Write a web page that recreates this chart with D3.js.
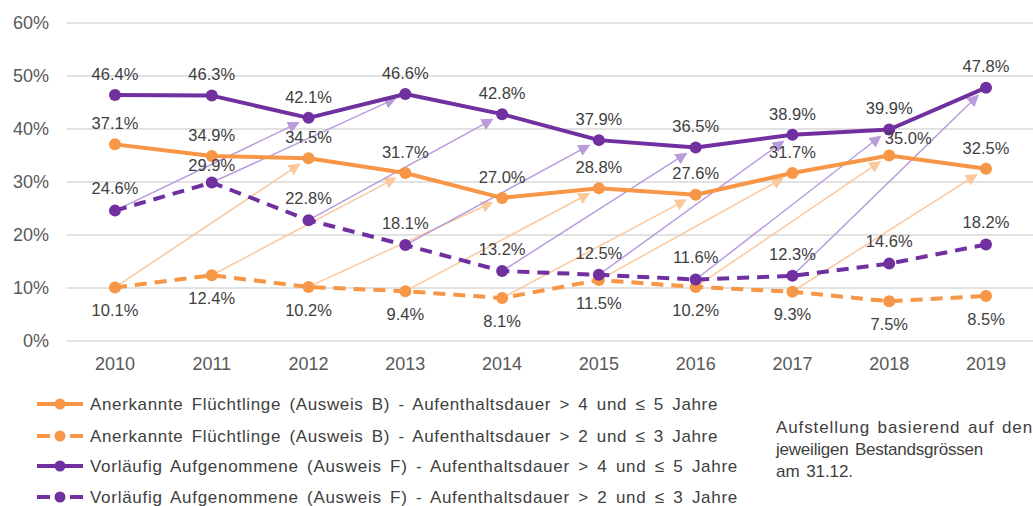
<!DOCTYPE html>
<html><head><meta charset="utf-8">
<script src="https://cdn.jsdelivr.net/npm/d3@7"></script>
<style>
body{margin:0;background:#fff;}
svg{display:block;font-family:"Liberation Sans",Arial,sans-serif;}
</style></head>
<body>
<svg id="c" width="1033" height="506"></svg>
<script>
const years = ["2010","2011","2012","2013","2014","2015","2016","2017","2018","2019"];
const bLong  = [37.1,34.9,34.5,31.7,27.0,28.8,27.6,31.7,35.0,32.5];
const bShort = [10.1,12.4,10.2,9.4,8.1,11.5,10.2,9.3,7.5,8.5];
const fLong  = [46.4,46.3,42.1,46.6,42.8,37.9,36.5,38.9,39.9,47.8];
const fShort = [24.6,29.9,22.8,18.1,13.2,12.5,11.6,12.3,14.6,18.2];
const yTicks = [0,10,20,30,40,50,60];
const legendLabels = [
  "Anerkannte Flüchtlinge (Ausweis B) - Aufenthaltsdauer > 4 und ≤ 5 Jahre",
  "Anerkannte Flüchtlinge (Ausweis B) - Aufenthaltsdauer > 2 und ≤ 3 Jahre",
  "Vorläufig Aufgenommene (Ausweis F) - Aufenthaltsdauer > 4 und ≤ 5 Jahre",
  "Vorläufig Aufgenommene (Ausweis F) - Aufenthaltsdauer > 2 und ≤ 3 Jahre"
];
const noteLines = ["Aufstellung basierend auf den","jeweiligen Bestandsgrössen","am 31.12."];

const ORANGE="#F79646", PURPLE="#7030A0", PEACH="#FBC89C", LAV="#B89CDC";
const svg = d3.select("#c");
const x = d3.scaleBand().domain(years).range([66.6,1034.4]);
const cx = d => x(d)+x.bandwidth()/2;
const y = d3.scaleLinear().domain([0,60]).range([341,23]);

// grid
svg.append("g").selectAll("line").data(yTicks).join("line")
  .attr("x1",66.6).attr("x2",1033).attr("y1",d=>y(d)).attr("y2",d=>y(d))
  .attr("stroke","#d9d9d9").attr("stroke-width",1.5);
// y labels
svg.append("g").selectAll("text").data(yTicks).join("text")
  .attr("x",49).attr("y",d=>y(d)).attr("dy","0.35em").attr("text-anchor","end")
  .attr("font-size",18).attr("fill","#595959").text(d=>d+"%");
// x labels
svg.append("g").selectAll("text").data(years).join("text")
  .attr("x",d=>cx(d)).attr("y",364).attr("dy","0.35em").attr("text-anchor","middle")
  .attr("font-size",18).attr("fill","#595959").text(d=>d);

// arrow markers
const defs = svg.append("defs");
[["ap",PEACH],["al",LAV]].forEach(([id,col])=>{
  defs.append("marker").attr("id",id).attr("viewBox","0 0 10 10").attr("refX",9).attr("refY",5)
    .attr("markerWidth",12).attr("markerHeight",12).attr("markerUnits","userSpaceOnUse").attr("orient","auto")
    .append("path").attr("d","M0,0 L10,5 L0,10 Z").attr("fill",col);
});
function arrows(src,dst,col,mk){
  const g = svg.append("g");
  for(let i=0;i+2<years.length;i++){
    const x1=cx(years[i]), y1=y(src[i]), x2=cx(years[i+2]), y2=y(dst[i+2]);
    const dx=x2-x1, dy=y2-y1, L=Math.hypot(dx,dy), s=(L-11)/L;
    g.append("line").attr("x1",x1).attr("y1",y1).attr("x2",x1+dx*s).attr("y2",y1+dy*s)
      .attr("stroke",col).attr("stroke-width",1.5).attr("marker-end",`url(#${mk})`);
  }
}
arrows(bShort,bLong,PEACH,"ap");
arrows(fShort,fLong,LAV,"al");

// series
const series = [
  {v:bLong, col:ORANGE, dash:null, off:-21},
  {v:bShort,col:ORANGE, dash:"12,8", off:23},
  {v:fLong, col:PURPLE, dash:null, off:-21},
  {v:fShort,col:PURPLE, dash:"12,8", off:-22}
];
const line = d3.line().x((d,i)=>cx(years[i])).y(d=>y(d));
series.forEach(s=>{
  svg.append("path").attr("d",line(s.v)).attr("fill","none").attr("stroke",s.col)
    .attr("stroke-width",4).attr("stroke-dasharray",s.dash).attr("stroke-linejoin","round");
  svg.append("g").selectAll("circle").data(s.v).join("circle")
    .attr("cx",(d,i)=>cx(years[i])).attr("cy",d=>y(d)).attr("r",6).attr("fill",s.col);
});
// labels
const tweak = {"0-8":[19,4],"3-1":[0,5]};
series.forEach((s,si)=>{
  svg.append("g").selectAll("text").data(s.v).join("text")
    .attr("x",(d,i)=>cx(years[i])+((tweak[si+"-"+i]||[0,0])[0]))
    .attr("y",(d,i)=>y(d)+s.off+((tweak[si+"-"+i]||[0,0])[1]))
    .attr("dy","0.35em").attr("text-anchor","middle").attr("font-size",16.5).attr("fill","#404040")
    .text(d=>d.toFixed(1)+"%");
});

function fit(tx, target, ws){
  tx.attr("word-spacing",ws);
  const w=tx.node().getComputedTextLength();
  const n=tx.text().length;
  tx.attr("letter-spacing",(target-w)/n);
}
// legend
const legY=[404,436,466,497], legEnd=[718,718,738,738];
legendLabels.forEach((t,i)=>{
  const s=series[i], g=svg.append("g");
  if(s.dash){
    g.append("line").attr("x1",37).attr("x2",50).attr("y1",legY[i]).attr("y2",legY[i]).attr("stroke",s.col).attr("stroke-width",4);
    g.append("line").attr("x1",70).attr("x2",83).attr("y1",legY[i]).attr("y2",legY[i]).attr("stroke",s.col).attr("stroke-width",4);
  } else {
    g.append("line").attr("x1",37).attr("x2",83).attr("y1",legY[i]).attr("y2",legY[i]).attr("stroke",s.col).attr("stroke-width",4);
  }
  g.append("circle").attr("cx",60).attr("cy",legY[i]).attr("r",5.5).attr("fill",s.col);
  const tx=g.append("text").attr("x",90).attr("y",legY[i]).attr("dy","0.35em").attr("font-size",17)
    .attr("fill","#404040").text(t);
  fit(tx, legEnd[i]-90, 3);
});
// note
const noteW=[257,207,77];
noteLines.forEach((t,i)=>{
  const tx=svg.append("text").attr("x",776).attr("y",427+i*22).attr("dy","0.35em").attr("font-size",17)
    .attr("fill","#404040").text(t);
  fit(tx, noteW[i], 2);
});
</script>
</body></html>
